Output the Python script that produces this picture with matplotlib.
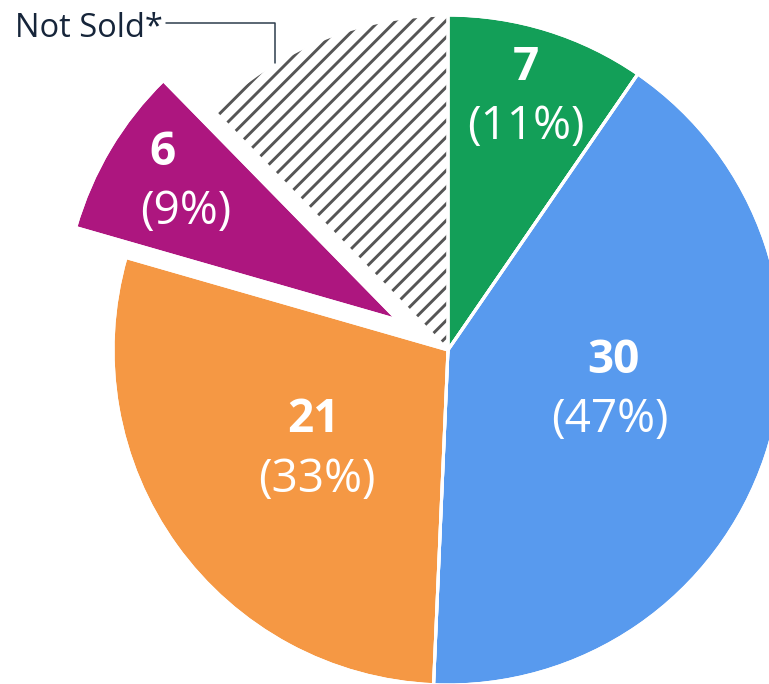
import numpy as np
import matplotlib
matplotlib.use("Agg")
import matplotlib.pyplot as plt

# ---- data ----
categories = ["Category A", "Category B", "Category C", "Category D", "Not Sold*"]
counts = [7, 30, 21, 6, 9]
percents = [11, 47, 33, 9]          # share of sold items, as printed
colors = ["#139F58", "#589AEE", "#F59844", "#AD167F", "#FFFFFF"]
explode = [0, 0, 0, 0.175, 0]

# label placement style (fraction of radius / fraction along wedge angle)
label_rfrac = [0.80, 0.50, 0.49, 0.79]
label_afrac = [0.49, 0.46, 0.50, 0.55]
num_dx = [0.0, 0.005, -0.005, -0.034]
pct_dx = [0.0, -0.005, 0.005, 0.034]
label_dy = -0.011

plt.rcParams["font.family"] = ["Open Sans", "DejaVu Sans"]
plt.rcParams["hatch.linewidth"] = 2.1

fig = plt.figure(figsize=(7.69, 6.84), dpi=100)
ax = fig.add_axes([0, 0, 1, 1])

wedges, _ = ax.pie(counts, colors=colors, explode=explode, startangle=90,
                   counterclock=False, radius=1,
                   wedgeprops=dict(edgecolor="white", linewidth=2.2))
ns = wedges[4]
ns.set_facecolor("white")
ns.set_edgecolor("#555555")
ns.set_linewidth(0)
ns.set_hatch("//")

# white separators on top
ax.pie(counts, colors=["none"] * len(counts), explode=explode, startangle=90,
       counterclock=False, radius=1,
       wedgeprops=dict(edgecolor="white", linewidth=2.2, facecolor="none"))

for i, w in enumerate(wedges[:4]):
    cx, cy = w.center
    ang = np.deg2rad(w.theta2 - label_afrac[i] * (w.theta2 - w.theta1))
    r = label_rfrac[i] * w.r
    x = cx + r * np.cos(ang)
    y = cy + r * np.sin(ang) + label_dy
    ax.text(x + num_dx[i], y + 0.09, f"{counts[i]}", ha="center", va="center",
            color="white", fontsize=33, fontweight="bold")
    ax.text(x + pct_dx[i], y - 0.09, f"({percents[i]}%)", ha="center", va="center",
            color="white", fontsize=33)

# Not Sold* leader
a = np.deg2rad(ns.theta1 + 0.70 * (ns.theta2 - ns.theta1))
px, py = ns.center[0] + ns.r * np.cos(a), ns.center[1] + ns.r * np.sin(a)
ax.annotate(categories[4], xy=(px, py), xytext=(-1.292, 0.960),
            ha="left", va="center", fontsize=23.5, color="#16253A",
            arrowprops=dict(arrowstyle="-", color="#2E3D4D", lw=1.1,
                            connectionstyle="angle,angleA=0,angleB=90,rad=0",
                            relpos=(1, 0.68), shrinkA=0, shrinkB=0))

ax.set_xlim(-1.337, 0.958)
ax.set_ylim(-0.997, 1.045)
ax.set_aspect("equal")
ax.axis("off")

fig.savefig("out.png", dpi=100)
